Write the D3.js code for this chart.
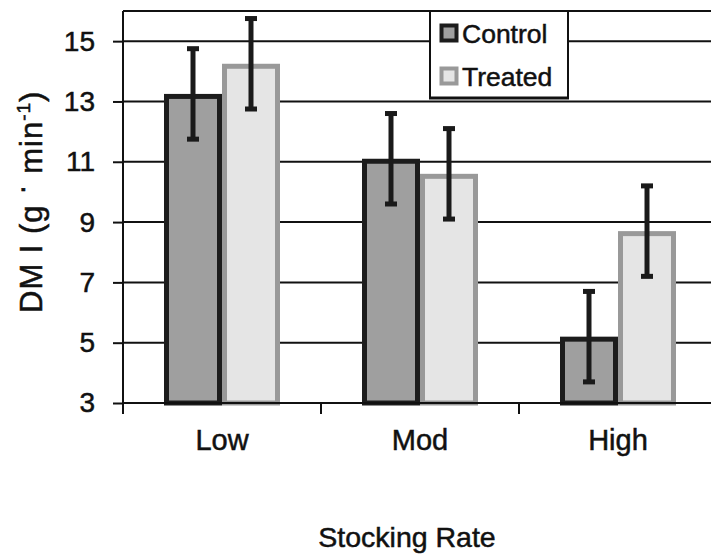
<!DOCTYPE html>
<html>
<head>
<meta charset="utf-8">
<script src="https://cdn.jsdelivr.net/npm/d3@7"></script>
<style>
  html, body { margin: 0; padding: 0; background: #fff; }
  svg { display: block; }
  text { font-family: "Liberation Sans", Arial, Helvetica, sans-serif; fill: #111; stroke: #111; stroke-width: 0.5px; }
</style>
</head>
<body>
<svg id="chart" width="711" height="554"></svg>
<script>
// ---- data ----
const categories = ["Low", "Mod", "High"];
const seriesNames = ["Control", "Treated"];
const controlValues = [13.25, 11.1, 5.2];
const treatedValues = [14.25, 10.6, 8.7];
const controlErrors = [1.5, 1.5, 1.5];
const treatedErrors = [1.5, 1.5, 1.5];
const yTicks = [3, 5, 7, 9, 11, 13, 15];
const yDomain = [3, 16];
const xTitle = "Stocking Rate";

(function () {
// ---- layout ----
const mLeft = 123, mTop = 11, mBottom = 403, mRight = 711;
const catStep = 198;

const svg = d3.select("#chart");

const y = d3.scaleLinear().domain(yDomain).range([mBottom, mTop]);
const x = d3.scaleBand().domain(categories).range([mLeft, mLeft + catStep * categories.length]).paddingInner(0).paddingOuter(0);
const x1 = d3.scaleBand().domain(seriesNames).range([x.bandwidth() / 2 - 58, x.bandwidth() / 2 + 58]);

const styles = {
  Control: { fill: "#9f9f9f", stroke: "#1c1c1c" },
  Treated: { fill: "#e5e5e5", stroke: "#999999" }
};

// gridlines
svg.append("g").selectAll("line").data(yTicks.filter(t => t > yDomain[0]))
  .join("line")
  .attr("x1", mLeft).attr("x2", mRight)
  .attr("y1", d => y(d)).attr("y2", d => y(d))
  .attr("stroke", "#111").attr("stroke-width", 2);
// top border
svg.append("line").attr("x1", mLeft).attr("x2", mRight)
  .attr("y1", y(yDomain[1])).attr("y2", y(yDomain[1]))
  .attr("stroke", "#111").attr("stroke-width", 2);

// bars
const data = categories.map((c, i) => ({
  cat: c,
  items: [
    { s: "Control", v: controlValues[i], e: controlErrors[i] },
    { s: "Treated", v: treatedValues[i], e: treatedErrors[i] }
  ]
}));
const sw = 5;
const groups = svg.append("g").selectAll("g").data(data).join("g")
  .attr("transform", d => `translate(${x(d.cat)},0)`);
groups.selectAll("rect.bar").data(d => d.items).join("rect")
  .attr("class", "bar")
  .attr("x", d => x1(d.s) + sw / 2)
  .attr("width", x1.bandwidth() - sw)
  .attr("y", d => y(d.v) + sw / 2)
  .attr("height", d => y(yDomain[0]) - y(d.v) - sw / 2)
  .attr("fill", d => styles[d.s].fill)
  .attr("stroke", d => styles[d.s].stroke)
  .attr("stroke-width", sw);

// error bars
const eb = groups.selectAll("g.eb").data(d => d.items).join("g").attr("class", "eb");
eb.append("line")
  .attr("x1", d => x1(d.s) + x1.bandwidth() / 2).attr("x2", d => x1(d.s) + x1.bandwidth() / 2)
  .attr("y1", d => y(d.v + d.e)).attr("y2", d => y(d.v - d.e))
  .attr("stroke", "#1a1a1a").attr("stroke-width", 5);
eb.selectAll("rect.cap").data(d => [{ d, v: d.v + d.e }, { d, v: d.v - d.e }]).join("rect")
  .attr("class", "cap")
  .attr("x", c => x1(c.d.s) + x1.bandwidth() / 2 - 6)
  .attr("width", 12)
  .attr("y", c => y(c.v) - 2.5)
  .attr("height", 5)
  .attr("fill", "#1a1a1a");

// y axis
const yAxis = d3.axisLeft(y).tickValues(yTicks).tickSize(10).tickPadding(18).tickFormat(d3.format("d"));
const gy = svg.append("g").attr("transform", `translate(${mLeft},0)`).call(yAxis);
gy.select(".domain").attr("stroke", "#111").attr("stroke-width", 2).attr("d", `M0,${mTop}V${mBottom + 11}`);
gy.selectAll(".tick line").attr("stroke", "#111").attr("stroke-width", 2);
gy.selectAll(".tick text").attr("font-size", 28).attr("fill", "#111").attr("font-family", "Liberation Sans, Arial, sans-serif");

// x axis
const xTickScale = d3.scaleLinear().domain([0, categories.length]).range([mLeft, mLeft + catStep * categories.length]);
svg.append("line").attr("x1", mLeft).attr("x2", mRight).attr("y1", mBottom).attr("y2", mBottom)
  .attr("stroke", "#111").attr("stroke-width", 2);
svg.append("g").selectAll("line").data(d3.range(0, categories.length))
  .join("line")
  .attr("x1", d => xTickScale(d)).attr("x2", d => xTickScale(d))
  .attr("y1", mBottom).attr("y2", mBottom + 11)
  .attr("stroke", "#111").attr("stroke-width", 2);
svg.append("g").selectAll("text").data(categories).join("text")
  .attr("x", d => x(d) + x.bandwidth() / 2)
  .attr("y", 450)
  .attr("text-anchor", "middle")
  .attr("font-size", 29)
  .text(d => d);

// axis titles
svg.append("text").attr("x", 407).attr("y", 547).attr("text-anchor", "middle")
  .attr("font-size", 28.5).text(xTitle);

const yt = svg.append("text").attr("transform", "translate(42,313) rotate(-90)")
  .attr("text-anchor", "start").attr("font-size", 31).attr("letter-spacing", 1);
yt.append("tspan").text("DM I (g ");
yt.append("tspan").attr("dy", -10).text("·");
yt.append("tspan").attr("dy", 10).text(" min");
yt.append("tspan").attr("dy", -12).attr("font-size", 19).text("-1");
yt.append("tspan").attr("dy", 12).text(")");

// legend
const lg = svg.append("g");
lg.append("rect").attr("x", 430).attr("y", mTop).attr("width", 138).attr("height", 87)
  .attr("fill", "#fff").attr("stroke", "#111").attr("stroke-width", 2);
lg.append("line").attr("x1", 429).attr("x2", 569).attr("y1", mTop + 87).attr("y2", mTop + 87)
  .attr("stroke", "#111").attr("stroke-width", 3);
const li = lg.selectAll("g.li").data(seriesNames).join("g").attr("class", "li")
  .attr("transform", (d, i) => `translate(0,${i * 43})`);
li.append("rect").attr("x", 441.5).attr("y", 25.5).attr("width", 15).attr("height", 15)
  .attr("fill", d => styles[d].fill).attr("stroke", d => styles[d].stroke).attr("stroke-width", 4);
li.append("text").attr("x", 462).attr("y", 43).attr("font-size", 26.5).text(d => d);
})();
</script>
</body>
</html>
